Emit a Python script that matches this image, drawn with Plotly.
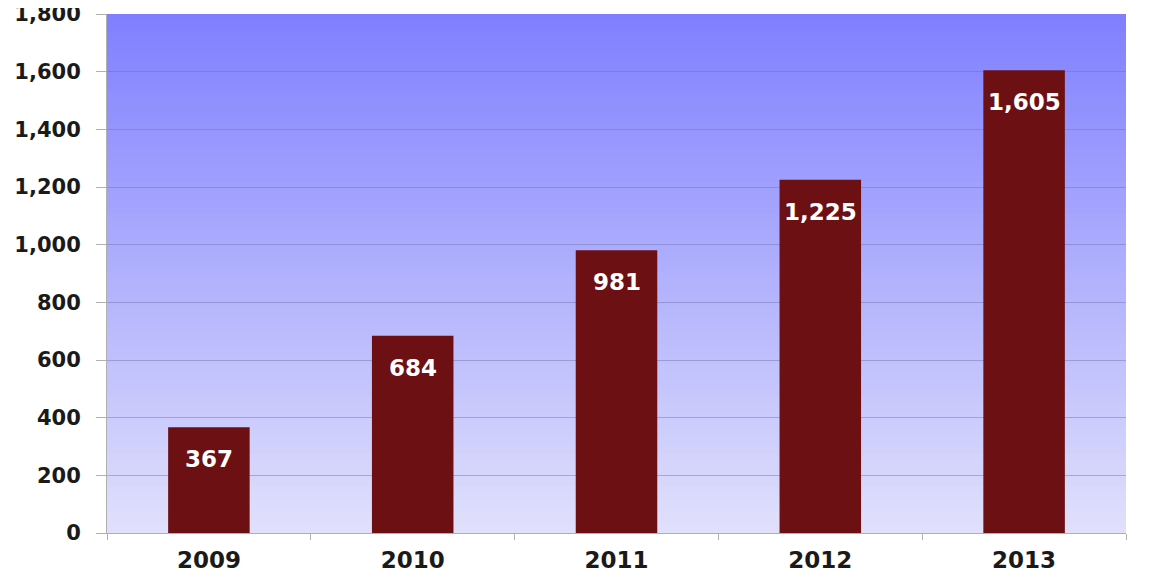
import plotly.graph_objects as go

years = ["2009", "2010", "2011", "2012", "2013"]
values = [367, 684, 981, 1225, 1605]
labels = ["367", "684", "981", "1,225", "1,605"]

FONT = "DejaVu Sans, Liberation Sans, Arial"

fig = go.Figure()
fig.add_trace(go.Bar(
    x=years, y=values, width=0.4,
    marker=dict(color="rgb(108,16,20)", line=dict(width=0)),
    hoverinfo="skip",
))

for i, (v, t) in enumerate(zip(values, labels)):
    fig.add_annotation(x=i, y=v, text=t, showarrow=False, yanchor="top", yshift=-17,
                       font=dict(family=FONT, size=23, color="white", weight="bold"))

# gradient background
n = 80
top = (128, 128, 255)
bot = (224, 224, 252)
shapes = []
for i in range(n):
    f = i / (n - 1)
    c = tuple(round(top[k] + (bot[k] - top[k]) * f) for k in range(3))
    y1 = 1 - i / n
    y0 = 1 - (i + 1) / n
    shapes.append(dict(type="rect", xref="paper", yref="paper", x0=0, x1=1, y0=y0, y1=min(1, y1 + 0.002),
                       fillcolor="rgb(%d,%d,%d)" % c, line=dict(width=0), layer="below"))

fig.update_layout(
    width=1156, height=577,
    margin=dict(l=99, r=38, t=6, b=52, autoexpand=False),
    paper_bgcolor="white", plot_bgcolor="rgba(0,0,0,0)",
    shapes=shapes, showlegend=False,
    font=dict(family=FONT, size=21, color="#1a1a1a"),
)
fig.update_yaxes(
    range=[0, 1800], dtick=200, tickformat=",d", automargin=False,
    showgrid=True, gridcolor="rgba(110,110,170,0.45)", gridwidth=1,
    showline=True, linecolor="#b0b0b0", linewidth=1,
    ticks="outside", ticklen=10, tickcolor="#b0b0b0",
    tickfont=dict(family=FONT, size=21, weight="bold", color="#1a1a1a"), ticklabelstandoff=11,
    ticklabeloverflow="allow", zeroline=False,
)
fig.update_xaxes(
    type="category", range=[-0.5, 4.5], automargin=False, tickangle=0,
    showline=True, linecolor="#b0b0b0", linewidth=1,
    ticks="outside", ticklen=6, tickcolor="#b0b0b0", tickson="boundaries",
    tickfont=dict(family=FONT, size=23, weight="bold", color="#1a1a1a"), ticklabelstandoff=6,
    showgrid=False,
)

fig.write_html("out.html")
